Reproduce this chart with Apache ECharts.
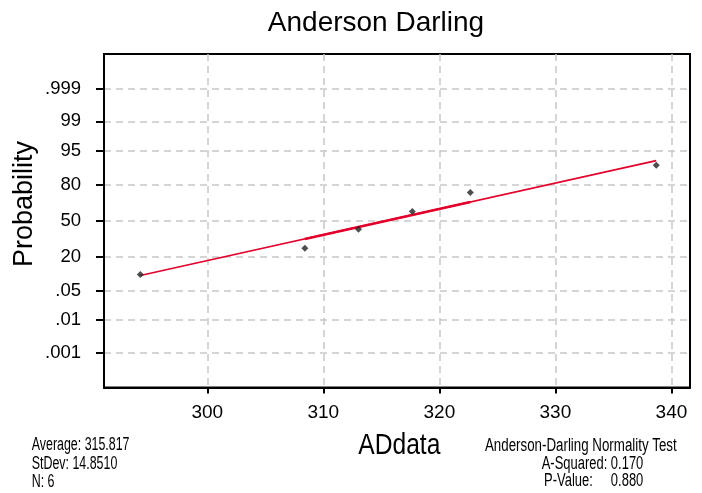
<!DOCTYPE html>
<html><head><meta charset="utf-8">
<script src="https://cdn.jsdelivr.net/npm/echarts@6/dist/echarts.min.js"></script>
<style>html,body{margin:0;padding:0;background:#fff}#c{width:702px;height:493px}</style>
</head><body><div id="c"></div>
<script>
const xTicks = [300, 310, 320, 330, 340];
const yTickLabels = ['.999', '99', '95', '80', '50', '20', '.05', '.01', '.001'];
const yTickZ = [3.09, 2.326, 1.645, 0.842, 0, -0.842, -1.645, -2.326, -3.09];
const obsX = [294.23, 308.41, 313.03, 317.67, 322.67, 338.69];
const obsZ = [-1.258, -0.641, -0.197, 0.214, 0.658, 1.298];
const fitX = [294.23, 338.69];
const fitZ = [-1.282, 1.406];
const fitMidX = [308.41, 322.67];
const fitMidZ = [-0.425, 0.437];
const titleText = 'Anderson Darling';
const yName = 'Probability';
const xName = 'ADdata';
const statsLeft = ['Average: 315.817', 'StDev: 14.8510', 'N: 6'];
const statsRight = ['Anderson-Darling Normality Test', 'A-Squared: 0.170', 'P-Value:     0.880'];

const FONT = '"Liberation Sans", Arial, sans-serif';
const pair = (xs, ys) => xs.map((x, i) => [x, ys[i]]);

function txt(text, x, y, size, align, scaleX, extra) {
  return Object.assign({
    type: 'text', x: x, y: y, scaleX: scaleX || 1,
    style: { text: text, fontFamily: FONT, fontSize: size, fill: '#000', textAlign: align, textVerticalAlign: 'middle' }
  }, extra || {});
}

const chart = echarts.init(document.getElementById('c'));
chart.setOption({
  backgroundColor: '#fff',
  animation: false,
  grid: { left: 104, right: 12, top: 54, bottom: 105.5, show: true, borderColor: '#000', borderWidth: 2, backgroundColor: 'transparent' },
  xAxis: {
    type: 'value', min: 291.1, max: 341.6,
    axisLine: { show: true, onZero: false, lineStyle: { color: '#000', width: 2 } },
    axisTick: { show: true, length: 6, lineStyle: { color: '#000', width: 2 }, customValues: xTicks },
    axisLabel: { customValues: xTicks, fontFamily: FONT, fontSize: 19, color: '#000', margin: 16 },
    splitLine: { show: true, lineStyle: { color: '#c8c8c8', width: 1.5, type: [7, 5] } }
  },
  yAxis: {
    type: 'value', min: -3.9, max: 3.9,
    axisLine: { show: true, onZero: false, lineStyle: { color: '#000', width: 2 } },
    axisTick: { show: true, length: 8, lineStyle: { color: '#000', width: 2 }, customValues: yTickZ },
    axisLabel: {
      customValues: yTickZ, fontFamily: FONT, fontSize: 18.5, color: '#000', margin: 23,
      formatter: function (v) {
        let best = 0;
        for (let i = 0; i < yTickZ.length; i++) if (Math.abs(yTickZ[i] - v) < Math.abs(yTickZ[best] - v)) best = i;
        return yTickLabels[best];
      }
    },
    splitLine: { show: true, lineStyle: { color: '#c8c8c8', width: 1.5, type: [7, 5] } }
  },
  series: [
    { type: 'line', data: pair(fitX, fitZ), showSymbol: false, lineStyle: { color: '#e3002b', width: 1.6 }, z: 3 },
    { type: 'line', data: pair(fitMidX, fitMidZ), showSymbol: false, lineStyle: { color: '#e3002b', width: 2.6 }, z: 3 },
    { type: 'scatter', data: pair(obsX, obsZ), symbol: 'diamond', symbolSize: 7, itemStyle: { color: '#222' }, z: 4 }
  ],
  graphic: [
    txt(titleText, 376, 23, 28, 'center', 1),
    txt(yName, 25, 204, 27, 'center', 1, { rotation: Math.PI / 2 }),
    txt(xName, 358.3, 446, 30, 'left', 0.82),
    txt(statsLeft[0], 31.7, 445, 18, 'left', 0.69),
    txt(statsLeft[1], 31.7, 464, 18, 'left', 0.69),
    txt(statsLeft[2], 31.7, 482, 18, 'left', 0.69),
    txt(statsRight[0], 676.7, 446, 18, 'right', 0.74),
    txt(statsRight[1], 643.3, 464.5, 18, 'right', 0.72),
    txt(statsRight[2], 643.3, 481.5, 18, 'right', 0.72)
  ]
});
</script></body></html>
